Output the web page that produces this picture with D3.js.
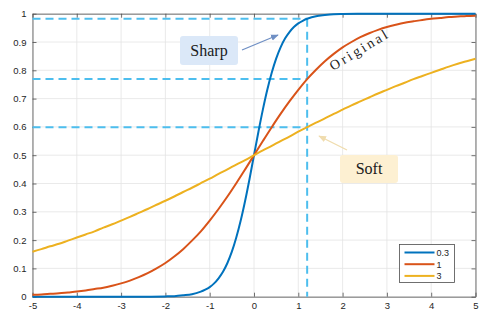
<!DOCTYPE html>
<html><head><meta charset="utf-8">
<script src="https://cdn.jsdelivr.net/npm/d3@7"></script>
<style>html,body{margin:0;padding:0;background:#fff;}svg{display:block;}</style>
</head><body><svg id="c" width="480" height="313"></svg>
<script>
const xs = [-5,-4.8,-4.6,-4.4,-4.2,-4,-3.8,-3.6,-3.4,-3.2,-3,-2.8,-2.6,-2.4,-2.2,-2,-1.8,-1.6,-1.4,-1.2,-1,-0.8,-0.6,-0.4,-0.2,0,0.2,0.4,0.6,0.8,1,1.2,1.4,1.6,1.8,2,2.2,2.4,2.6,2.8,3,3.2,3.4,3.6,3.8,4,4.2,4.4,4.6,4.8,5];
const yT1 = [0.007,0.008,0.010,0.012,0.015,0.018,0.022,0.027,0.032,0.039,0.047,0.057,0.069,0.083,0.100,0.119,0.142,0.168,0.198,0.231,0.269,0.310,0.354,0.401,0.450,0.500,0.550,0.599,0.646,0.690,0.731,0.769,0.802,0.832,0.858,0.881,0.900,0.917,0.931,0.943,0.953,0.961,0.968,0.973,0.978,0.982,0.985,0.988,0.990,0.992,0.993];
const yT3 = [0.159,0.168,0.178,0.187,0.198,0.209,0.220,0.231,0.244,0.256,0.269,0.282,0.296,0.310,0.325,0.339,0.354,0.370,0.385,0.401,0.417,0.434,0.450,0.467,0.483,0.500,0.517,0.533,0.550,0.566,0.583,0.599,0.615,0.630,0.646,0.661,0.676,0.690,0.704,0.718,0.731,0.744,0.756,0.769,0.780,0.791,0.802,0.813,0.823,0.832,0.841];
const xsSharp = [-5,-4,-3,-2.5,-2,-1.8,-1.6,-1.4,-1.2,-1.1,-1,-0.9,-0.8,-0.7,-0.6,-0.5,-0.4,-0.3,-0.2,-0.1,0,0.1,0.2,0.3,0.4,0.5,0.6,0.7,0.8,0.9,1,1.1,1.2,1.4,1.6,1.8,2,2.5,3,4,5];
const yT03 = [0.000,0.000,0.000,0.000,0.001,0.002,0.005,0.009,0.018,0.025,0.034,0.047,0.065,0.088,0.119,0.159,0.209,0.269,0.339,0.417,0.500,0.583,0.661,0.731,0.791,0.841,0.881,0.912,0.935,0.953,0.966,0.975,0.982,0.991,0.995,0.998,0.999,1.000,1.000,1.000,1.000];
const seriesNames = ["0.3","1","3"];
const seriesColors = ["#0072BD","#D95319","#EDB120"];
const xTicks = [-5,-4,-3,-2,-1,0,1,2,3,4,5];
const yTicks = [0,0.1,0.2,0.3,0.4,0.5,0.6,0.7,0.8,0.9,1];
const markX = 1.2;
const markYs = [0.982,0.769,0.599];

const svg = d3.select("#c");
const L=32.5, R=475.5, T=13.7, B=296.7;
const x = d3.scaleLinear().domain([-5,5]).range([L,R]);
const y = d3.scaleLinear().domain([0,1]).range([B,T]);

// grid
const g = svg.append("g");
g.selectAll(".gx").data(xTicks).join("line").attr("x1",d=>x(d)).attr("x2",d=>x(d)).attr("y1",T).attr("y2",B).attr("stroke","#e5e5e5").attr("stroke-width",0.8);
g.selectAll(".gy").data(yTicks).join("line").attr("y1",d=>y(d)).attr("y2",d=>y(d)).attr("x1",L).attr("x2",R).attr("stroke","#e5e5e5").attr("stroke-width",0.8);

// axes
const axB = svg.append("g").attr("transform",`translate(0,${B})`).call(d3.axisBottom(x).tickValues(xTicks).tickSizeInner(-4).tickSizeOuter(0).tickPadding(6).tickFormat(d=>String(d)));
const axT = svg.append("g").attr("transform",`translate(0,${T})`).call(d3.axisTop(x).tickValues(xTicks).tickSizeInner(-4).tickSizeOuter(0).tickFormat(""));
const axL = svg.append("g").attr("transform",`translate(${L},0)`).call(d3.axisLeft(y).tickValues(yTicks).tickSizeInner(-4).tickSizeOuter(0).tickPadding(6).tickFormat(d=>String(d)));
const axR = svg.append("g").attr("transform",`translate(${R},0)`).call(d3.axisRight(y).tickValues(yTicks).tickSizeInner(-4).tickSizeOuter(0).tickFormat(""));
[axB,axT,axL,axR].forEach(a=>{
  a.select(".domain").attr("stroke","#4d4d4d").attr("stroke-width",0.8);
  a.selectAll(".tick line").attr("stroke","#4d4d4d").attr("stroke-width",0.8);
  a.selectAll("text").attr("fill","#262626").style("font-family","'Liberation Sans',Arial,sans-serif").style("font-size","9.5px");
});

// dashed markers
const dash = svg.append("g").attr("stroke","#4DBEEE").attr("stroke-width",2).attr("stroke-dasharray","8,5").attr("fill","none");
dash.selectAll(".h").data(markYs).join("line").attr("x1",x(-5)).attr("x2",x(markX)).attr("y1",d=>y(d)).attr("y2",d=>y(d));
dash.append("line").attr("x1",x(markX)).attr("x2",x(markX)).attr("y1",y(d3.max(markYs))).attr("y2",y(0));

// curves
const line = d3.line().x(d=>x(d[0])).y(d=>y(d[1])).curve(d3.curveCatmullRom);
const data = [d3.zip(xsSharp,yT03), d3.zip(xs,yT1), d3.zip(xs,yT3)];
svg.append("g").selectAll("path").data(data).join("path").attr("d",line).attr("fill","none")
  .attr("stroke",(d,i)=>seriesColors[i]).attr("stroke-width",2);

// defs arrows
const defs = svg.append("defs");
function marker(id,color){
  defs.append("marker").attr("id",id).attr("viewBox","0 0 10 10").attr("refX",9).attr("refY",5)
    .attr("markerWidth",6).attr("markerHeight",6).attr("orient","auto")
    .append("path").attr("d","M0,1 L10,5 L0,9 z").attr("fill",color);
}
marker("aS","#6f8fc4"); marker("aF","#f0dcae");

// Sharp annotation
svg.append("rect").attr("x",180).attr("y",36).attr("width",58).attr("height",29).attr("rx",3).attr("fill","#dbe8f8");
svg.append("text").attr("x",209).attr("y",56).attr("text-anchor","middle").attr("font-family","'Liberation Serif','Times New Roman',serif").attr("font-size",16).attr("fill","#1a1a1a").text("Sharp");
svg.append("line").attr("x1",242).attr("y1",50).attr("x2",278).attr("y2",35).attr("stroke","#6f8fc4").attr("stroke-width",1.3).attr("marker-end","url(#aS)");

// Soft annotation
svg.append("rect").attr("x",340).attr("y",155).attr("width",58).attr("height",28).attr("rx",3).attr("fill","#fdf0d2");
svg.append("text").attr("x",369).attr("y",174).attr("text-anchor","middle").attr("font-family","'Liberation Serif','Times New Roman',serif").attr("font-size",16).attr("fill","#1a1a1a").text("Soft");
svg.append("line").attr("x1",347).attr("y1",150).attr("x2",319).attr("y2",136).attr("stroke","#f0dcae").attr("stroke-width",1.3).attr("marker-end","url(#aF)");

// Original label
svg.append("text").attr("transform","translate(333,71) rotate(-31)").attr("font-family","'Liberation Serif','Times New Roman',serif")
  .attr("font-size",14).attr("letter-spacing","2.6px").attr("fill","#1a1a1a").text("Original");

// legend
const lg = svg.append("g").attr("transform","translate(399.5,244.5)");
lg.append("rect").attr("width",55).attr("height",38).attr("fill","#fff").attr("stroke","#4d4d4d").attr("stroke-width",0.8);
seriesNames.forEach((n,i)=>{
  const yy = 8 + i*11.7;
  lg.append("line").attr("x1",5).attr("x2",35).attr("y1",yy).attr("y2",yy).attr("stroke",seriesColors[i]).attr("stroke-width",2);
  lg.append("text").attr("x",37).attr("y",yy+3.3).attr("font-family","'Liberation Sans',Arial,sans-serif").attr("font-size",9).attr("fill","#262626").text(n);
});
</script></body></html>
